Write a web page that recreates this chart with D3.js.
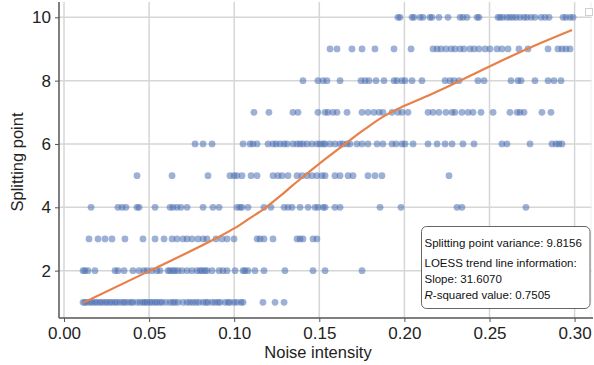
<!DOCTYPE html>
<html>
<head>
<meta charset="utf-8">
<script src="https://cdn.jsdelivr.net/npm/d3@7"></script>
<style>
  body { margin: 0; background: #fff; }
  svg { display: block; font-family: "Liberation Sans", Arial, sans-serif; }
</style>
</head>
<body>
<div id="chart"></div>
<script>
// noise intensity values of the points, one list per splitting point
const row1 = [0.0112, 0.0123, 0.0135, 0.0153, 0.0165, 0.0182, 0.0194, 0.0212, 0.0223, 0.0241, 0.0253, 0.0270, 0.0282, 0.0300, 0.0311, 0.0329, 0.0347, 0.0358, 0.0376, 0.0394, 0.0405, 0.0429, 0.0447, 0.0464, 0.0476, 0.0488, 0.0505, 0.0517, 0.0535, 0.0546, 0.0564, 0.0576, 0.0599, 0.0623, 0.0640, 0.0652, 0.0670, 0.0699, 0.0723, 0.0740, 0.0758, 0.0776, 0.0793, 0.0817, 0.0834, 0.0846, 0.0870, 0.0887, 0.0905, 0.0917, 0.0946, 0.0964, 0.0975, 0.0999, 0.1016, 0.1040, 0.1052, 0.1169, 0.1240, 0.1293];
const row2 = [0.0112, 0.0123, 0.0141, 0.0182, 0.0300, 0.0317, 0.0353, 0.0405, 0.0441, 0.0470, 0.0488, 0.0517, 0.0546, 0.0564, 0.0611, 0.0623, 0.0640, 0.0652, 0.0670, 0.0693, 0.0723, 0.0752, 0.0781, 0.0799, 0.0811, 0.0828, 0.0840, 0.0870, 0.0911, 0.0934, 0.0958, 0.1005, 0.1052, 0.1063, 0.1081, 0.1122, 0.1175, 0.1298, 0.1463, 0.1534, 0.1751];
const row3 = [0.0147, 0.0200, 0.0241, 0.0282, 0.0358, 0.0464, 0.0535, 0.0588, 0.0635, 0.0664, 0.0699, 0.0723, 0.0752, 0.0787, 0.0817, 0.0840, 0.0893, 0.0928, 0.0958, 0.0999, 0.1134, 0.1152, 0.1175, 0.1228, 0.1369, 0.1387, 0.1404, 0.1463, 0.1486];
const row4 = [0.0159, 0.0317, 0.0341, 0.0364, 0.0429, 0.0441, 0.0535, 0.0623, 0.0640, 0.0664, 0.0687, 0.0723, 0.0817, 0.0875, 0.0911, 0.1016, 0.1034, 0.1046, 0.1081, 0.1175, 0.1216, 0.1293, 0.1316, 0.1340, 0.1387, 0.1434, 0.1475, 0.1492, 0.1522, 0.1534, 0.1592, 0.1622, 0.1857, 0.1980, 0.2309, 0.2338, 0.2714];
const row5 = [0.0429, 0.0635, 0.0846, 0.0975, 0.0999, 0.1016, 0.1046, 0.1099, 0.1134, 0.1228, 0.1257, 0.1281, 0.1316, 0.1369, 0.1398, 0.1428, 0.1457, 0.1486, 0.1516, 0.1534, 0.1592, 0.1622, 0.1669, 0.1698, 0.1786, 0.1827, 0.1868, 0.2262];
const row6 = [0.0770, 0.0817, 0.0870, 0.1052, 0.1093, 0.1110, 0.1134, 0.1199, 0.1228, 0.1246, 0.1269, 0.1293, 0.1310, 0.1345, 0.1369, 0.1387, 0.1404, 0.1428, 0.1457, 0.1486, 0.1504, 0.1522, 0.1534, 0.1563, 0.1592, 0.1622, 0.1639, 0.1663, 0.1680, 0.1721, 0.1751, 0.1786, 0.1839, 0.1874, 0.1927, 0.1951, 0.1986, 0.2004, 0.2051, 0.2139, 0.2192, 0.2239, 0.2280, 0.2344, 0.2409, 0.2573, 0.2603, 0.2738, 0.2867, 0.2891, 0.2908, 0.2926];
const row7 = [0.1116, 0.1204, 0.1345, 0.1375, 0.1492, 0.1534, 0.1551, 0.1580, 0.1604, 0.1663, 0.1751, 0.1786, 0.1821, 0.1851, 0.1874, 0.1927, 0.1962, 0.1986, 0.2021, 0.2139, 0.2168, 0.2203, 0.2244, 0.2280, 0.2297, 0.2338, 0.2374, 0.2403, 0.2450, 0.2521, 0.2620, 0.2662, 0.2679, 0.2703, 0.2808, 0.2861];
const row8 = [0.1404, 0.1492, 0.1522, 0.1545, 0.1622, 0.1745, 0.1769, 0.1792, 0.1833, 0.1880, 0.1939, 0.1956, 0.1986, 0.2004, 0.2045, 0.2103, 0.2239, 0.2268, 0.2291, 0.2321, 0.2432, 0.2468, 0.2626, 0.2667, 0.2685, 0.2767, 0.2844, 0.2879, 0.2920];
const row9 = [0.1563, 0.1604, 0.1692, 0.1751, 0.1827, 0.1939, 0.2039, 0.2168, 0.2192, 0.2215, 0.2244, 0.2274, 0.2297, 0.2327, 0.2350, 0.2385, 0.2409, 0.2438, 0.2474, 0.2503, 0.2544, 0.2573, 0.2609, 0.2673, 0.2726, 0.2844, 0.2902, 0.2926, 0.2949, 0.2973];
const row10 = [0.1962, 0.1974, 0.2045, 0.2056, 0.2092, 0.2109, 0.2150, 0.2162, 0.2203, 0.2256, 0.2327, 0.2344, 0.2368, 0.2427, 0.2438, 0.2550, 0.2562, 0.2579, 0.2603, 0.2620, 0.2638, 0.2656, 0.2679, 0.2703, 0.2720, 0.2744, 0.2767, 0.2803, 0.2826, 0.2850, 0.2932, 0.2949, 0.2973, 0.2991];
const rows = [row1, row2, row3, row4, row5, row6, row7, row8, row9, row10];

// LOESS trend line
const trendX = [0.0112, 0.0505, 0.0893, 0.1005, 0.1093, 0.1175, 0.1269, 0.1345, 0.1434, 0.1534, 0.1639, 0.1763, 0.1880, 0.1990, 0.2120, 0.2250, 0.2500, 0.2750, 0.2985];
const trendY = [0.98, 2.0, 3.02, 3.35, 3.66, 3.95, 4.35, 4.70, 5.09, 5.52, 5.95, 6.45, 6.88, 7.18, 7.48, 7.80, 8.45, 9.07, 9.60];

const xTicks = [0, 0.05, 0.10, 0.15, 0.20, 0.25, 0.30];
const yTicks = [2, 4, 6, 8, 10];
const infoLines = ['Splitting point variance: 9.8156', 'LOESS trend line information:', 'Slope: 31.6070', 'R-squared value: 0.7505'];

const W = 594, H = 365;
const svg = d3.select('#chart').append('svg').attr('width', W).attr('height', H);

const x = d3.scaleLinear().domain([0, 0.30]).range([64, 574.6]);
const y = d3.scaleLinear().domain([1, 10]).range([302.3, 17.3]);
const axisLeftX = 59, axisBottomY = 318;

// grid
svg.append('g').selectAll('line').data(xTicks).join('line')
  .attr('x1', d => x(d)).attr('x2', d => x(d))
  .attr('y1', 2).attr('y2', axisBottomY)
  .attr('stroke', '#d6d6d6').attr('stroke-width', 1.5);
svg.append('g').selectAll('line').data(yTicks).join('line')
  .attr('x1', axisLeftX).attr('x2', 592)
  .attr('y1', d => y(d)).attr('y2', d => y(d))
  .attr('stroke', '#d6d6d6').attr('stroke-width', 1.5);

// faint right border and the little box in the corner
svg.append('line').attr('x1', 591).attr('x2', 591).attr('y1', 2).attr('y2', axisBottomY)
  .attr('stroke', '#eeeeee').attr('stroke-width', 1);
svg.append('rect').attr('x', 585.5).attr('y', 8.5).attr('width', 7).attr('height', 7)
  .attr('fill', '#fff').attr('stroke', '#d0d0d0');

// axes
const xAxis = svg.append('g')
  .attr('transform', `translate(0,${axisBottomY})`)
  .call(d3.axisBottom(x).tickValues(xTicks).tickFormat(d3.format('.2f')).tickSize(4).tickPadding(5));
const yAxis = svg.append('g')
  .attr('transform', `translate(${axisLeftX},0)`)
  .call(d3.axisLeft(y).tickValues(yTicks).tickSize(4).tickPadding(4));
[xAxis, yAxis].forEach(a => {
  a.select('.domain').remove();
  a.selectAll('.tick line').attr('stroke', '#555');
  a.selectAll('.tick text').attr('fill', '#222').style('font-size', '17px')
    .style('font-family', '"Liberation Sans", Arial, sans-serif');
});
svg.append('line').attr('x1', axisLeftX).attr('x2', axisLeftX).attr('y1', 2).attr('y2', axisBottomY)
  .attr('stroke', '#555').attr('stroke-width', 1.5);
svg.append('line').attr('x1', axisLeftX).attr('x2', 593).attr('y1', axisBottomY).attr('y2', axisBottomY)
  .attr('stroke', '#555').attr('stroke-width', 1.5);

// axis titles
svg.append('text').attr('x', 318).attr('y', 358).attr('text-anchor', 'middle')
  .style('font-size', '16.5px').attr('fill', '#222').text('Noise intensity');
svg.append('text').attr('transform', 'translate(23,162) rotate(-90)').attr('text-anchor', 'middle')
  .style('font-size', '16.5px').attr('fill', '#222').text('Splitting point');

// points
const pts = rows.flatMap((r, i) => r.map(v => ({ x: v, y: i + 1 })));
svg.append('g').selectAll('circle').data(pts).join('circle')
  .attr('cx', d => x(d.x)).attr('cy', d => y(d.y)).attr('r', 3.4)
  .attr('fill', '#4d6fb3').attr('fill-opacity', 0.55);

// trend line
const trend = trendX.map((v, i) => [v, trendY[i]]);
svg.append('path').datum(trend)
  .attr('d', d3.line().x(d => x(d[0])).y(d => y(d[1])).curve(d3.curveMonotoneX))
  .attr('fill', 'none').attr('stroke', '#e8804a').attr('stroke-width', 2.2);

// info box
const box = svg.append('g').attr('transform', 'translate(421.5,226.5)');
box.append('rect').attr('width', 168.5).attr('height', 82).attr('rx', 5)
  .attr('fill', '#fff').attr('stroke', '#666').attr('stroke-width', 1);
const lineY = [20, 40.5, 56.5, 72];
infoLines.forEach((t, i) => {
  const tx = box.append('text').attr('x', 3).attr('y', lineY[i])
    .style('font-size', '11.5px').attr('fill', '#111');
  if (t.startsWith('R-')) {
    tx.append('tspan').style('font-style', 'italic').text('R');
    tx.append('tspan').text(t.slice(1));
  } else {
    tx.text(t);
  }
});
</script>
</body>
</html>
